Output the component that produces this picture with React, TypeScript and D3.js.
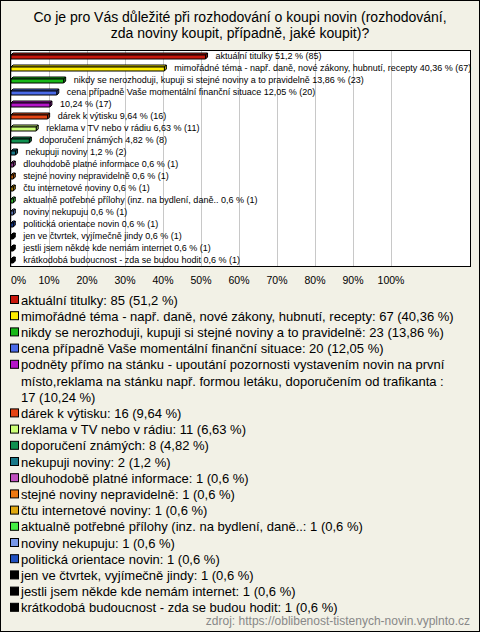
import React from "react";
import * as d3 from "d3";

const title = [
  "Co je pro Vás důležité při rozhodování o koupi novin (rozhodování,",
  "zda noviny koupit, případně, jaké koupit)?",
];

const categories = [
  "aktuální titulky",
  "mimořádné téma - např. daně, nové zákony, hubnutí, recepty",
  "nikdy se nerozhoduji, kupuji si stejné noviny a to pravidelně",
  "cena případně Vaše momentální finanční situace",
  "podněty přímo na stánku - upoutání pozornosti vystavením novin na první místo,reklama na stánku např. formou letáku, doporučením od trafikanta ",
  "dárek k výtisku",
  "reklama v TV nebo v rádiu",
  "doporučení známých",
  "nekupuji noviny",
  "dlouhodobě platné informace",
  "stejné noviny nepravidelně",
  "čtu internetové noviny",
  "aktualně potřebné přílohy (inz. na bydlení, daně..",
  "noviny nekupuju",
  "politická orientace novin",
  "jen ve čtvrtek, vyjímečně jindy",
  "jestli jsem někde kde nemám internet",
  "krátkodobá budoucnost - zda se budou hodit",
];

const counts = [85, 67, 23, 20, 17, 16, 11, 8, 2, 1, 1, 1, 1, 1, 1, 1, 1, 1];
const percents = [51.2, 40.36, 13.86, 12.05, 10.24, 9.64, 6.63, 4.82, 1.2, 0.6, 0.6, 0.6, 0.6, 0.6, 0.6, 0.6, 0.6, 0.6];

const colors = [
  "#c8170b", "#ffee00", "#18b818", "#4a6ae8", "#b414c8", "#e64414",
  "#ccff77", "#109050", "#187888", "#c050c0", "#ee7810", "#e0a810",
  "#44ee44", "#7898e8", "#2050c0", "#000000", "#000000", "#000000",
];

const xTicks = [0, 10, 20, 30, 40, 50, 60, 70, 80, 90, 100];
const source = "zdroj: https://oblibenost-tistenych-novin.vyplnto.cz";

const W = 480;
const H = 632;
const FONT = "'Liberation Sans', Arial, sans-serif";
const fmt = (v: number) => String(v).replace(".", ",");

function wrap(text: string, maxW: number, font: string): string[] {
  const c = document.createElement("canvas").getContext("2d")!;
  c.font = font;
  const words = text.split(" ");
  const lines: string[] = [];
  let cur = "";
  for (const w of words) {
    const t = cur ? cur + " " + w : w;
    if (c.measureText(t).width > maxW && cur) {
      lines.push(cur);
      cur = w;
    } else cur = t;
  }
  if (cur) lines.push(cur);
  return lines;
}

export default function App() {
  const plot = { left: 10, right: 470, top: 50, bottom: 266 };
  const x = d3.scaleLinear().domain([0, 100]).range([11, 391]);
  const y = d3
    .scaleBand<number>()
    .domain(d3.range(categories.length))
    .range([plot.top, plot.bottom]);
  const d = 2;
  const bh = 4;

  const legendFontSize = 13;
  const legendLH = 16.2;
  let ly = 300;
  const legendItems: { color: string; lines: string[]; y: number }[] = [];
  categories.forEach((c, i) => {
    const text = `${c}: ${counts[i]} (${fmt(percents[i])} %)`;
    const lines = wrap(text, 440, `${legendFontSize}px ${FONT}`);
    legendItems.push({ color: colors[i], lines, y: ly });
    ly += lines.length * legendLH;
  });

  return (
    <svg
      width={W}
      height={H}
      style={{ position: "absolute", left: 0, top: 0 }}
      fontFamily={FONT}
    >
      <rect x={0.5} y={0.5} width={W - 1} height={H - 1} fill="#f2f1e6" stroke="#000" />
      {title.map((t, i) => (
        <text key={i} x={W / 2} y={22 + i * 16} textAnchor="middle" fontSize={14} fill="#000">
          {t}
        </text>
      ))}
      <rect
        x={plot.left + 0.5}
        y={plot.top + 0.5}
        width={plot.right - plot.left}
        height={plot.bottom - plot.top}
        fill="#fff"
      />
      {xTicks.map((t) => (
        <line
          key={t}
          x1={Math.round(x(t)) + 0.5}
          x2={Math.round(x(t)) + 0.5}
          y1={plot.top}
          y2={plot.bottom}
          stroke="#c8c8c8"
        />
      ))}
      {categories.map((c, i) => {
        const x0 = x(0);
        const x1 = x(percents[i]);
        const yc = (y(i) as number) + y.bandwidth() / 2 + 1;
        const yt = yc - bh / 2;
        const yb = yc + bh / 2;
        const front = `M${x0},${yt}H${x1}V${yb}H${x0}Z`;
        const top = `M${x0},${yt}L${x0 + d},${yt - d}H${x1 + d}L${x1},${yt}Z`;
        const side = `M${x1},${yt}L${x1 + d},${yt - d}V${yb - d}L${x1},${yb}Z`;
        const label = c.length > 100 ? "" : c + " ";
        return (
          <g key={i}>
            <path d={top} fill={colors[i]} stroke="#000" strokeWidth={1} strokeLinejoin="round" />
            <path d={side} fill={d3.color(colors[i])!.darker(0.8).toString()} stroke="#000" strokeWidth={1} strokeLinejoin="round" />
            <path d={front} fill={colors[i]} stroke="#000" strokeWidth={1} />
            <text x={x1 + 10} y={yc + 2} fontSize={9} fill="#000">
              {`${label}${fmt(percents[i])} % (${counts[i]})`}
            </text>
          </g>
        );
      })}
      <rect
        x={plot.left + 0.5}
        y={plot.top + 0.5}
        width={plot.right - plot.left}
        height={plot.bottom - plot.top}
        fill="none"
        stroke="#000"
      />
      {xTicks.map((t) => (
        <text
          key={t}
          x={t === 0 ? 11 : x(t)}
          y={284}
          textAnchor={t === 0 ? "start" : "middle"}
          fontSize={10.5}
          fill="#000"
        >
          {t}%
        </text>
      ))}
      {legendItems.map((it, i) => (
        <g key={i}>
          <rect x={10.5} y={it.y - 4.5} width={8} height={8} fill={it.color} stroke="#000" />
          {it.lines.map((l, j) => (
            <text key={j} x={21} y={it.y + 4.5 + j * legendLH} fontSize={legendFontSize} fill="#000">
              {l}
            </text>
          ))}
        </g>
      ))}
      <text x={470} y={625} textAnchor="end" fontSize={12} fill="#888">
        {source}
      </text>
    </svg>
  );
}
